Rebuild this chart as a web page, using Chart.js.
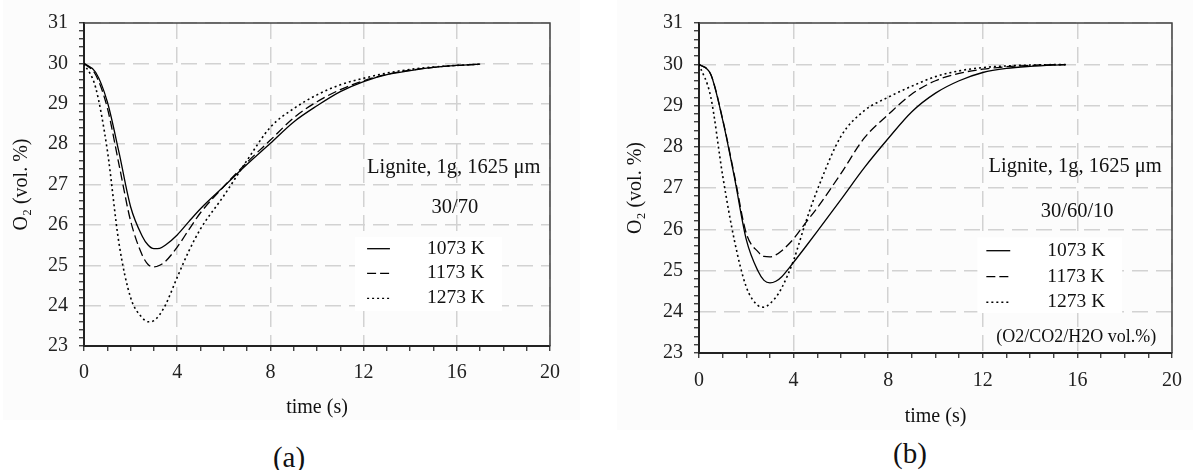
<!DOCTYPE html>
<html>
<head>
<meta charset="utf-8">
<script src="https://cdn.jsdelivr.net/npm/chart.js@4"></script>
<style>
  body { margin: 0; background: #fff; width: 1193px; height: 470px; position: relative; overflow: hidden;
         font-family: "Liberation Serif", "Times New Roman", serif; }
  canvas { position: absolute; background: #fcfcfc; }
  #chartA { left: 3px; top: 0; }
  #chartB { left: 617px; top: 0; }
  .cap { position: absolute; font-size: 29px; color: #111; transform: translate(-50%, -50%); }
</style>
</head>
<body>
<canvas id="chartA" width="577" height="420"></canvas>
<canvas id="chartB" width="576" height="430"></canvas>
<div class="cap" style="left:289px; top:457px">(a)</div>
<div class="cap" style="left:910px; top:453px">(b)</div>
<script>
// du lieu doc tu hinh
const seriesLabels = ['1073 K', '1173 K', '1273 K'];

// (a) 30/70
const timeA = [0, 0.5, 1, 1.5, 2, 2.5, 2.75, 3, 3.25, 3.5, 4, 4.5, 5, 6, 7, 8, 9, 10, 11, 12, 13, 14, 15, 16, 17];
const a1073 = [30.0, 29.78, 29.05, 27.8, 26.45, 25.72, 25.5, 25.41, 25.42, 25.5, 25.75, 26.08, 26.4, 26.95, 27.5, 28.02, 28.55, 28.95, 29.3, 29.55, 29.72, 29.82, 29.9, 29.95, 29.98];
const a1173 = [30.0, 29.72, 28.9, 27.5, 26.1, 25.25, 25.02, 24.96, 25.0, 25.1, 25.45, 25.88, 26.3, 26.95, 27.55, 28.1, 28.65, 29.05, 29.35, 29.57, 29.73, 29.83, 29.9, 29.95, 29.98];
const a1273 = [30.0, 29.4, 27.85, 25.55, 24.2, 23.7, 23.6, 23.63, 23.78, 24.02, 24.7, 25.35, 25.9, 26.72, 27.6, 28.42, 28.88, 29.22, 29.47, 29.63, 29.76, 29.85, 29.91, 29.95, 29.98];

// (b) 30/60/10
const timeB = [0, 0.5, 1, 1.5, 2, 2.5, 2.75, 3, 3.25, 3.5, 4, 4.5, 5, 6, 7, 8, 9, 10, 11, 12, 13, 14, 15, 15.5];
const b1073 = [30.0, 29.75, 28.65, 27.25, 25.75, 24.98, 24.76, 24.7, 24.74, 24.85, 25.2, 25.57, 25.95, 26.72, 27.5, 28.2, 28.85, 29.3, 29.6, 29.8, 29.9, 29.95, 29.98, 29.99];
const b1173 = [30.0, 29.75, 28.67, 27.3, 25.9, 25.45, 25.34, 25.33, 25.38, 25.48, 25.77, 26.15, 26.52, 27.35, 28.22, 28.78, 29.28, 29.6, 29.78, 29.88, 29.94, 29.97, 29.99, 29.99];
const b1273 = [30.0, 29.2, 27.3, 25.72, 24.6, 24.15, 24.11, 24.2, 24.35, 24.58, 25.25, 26.15, 26.95, 28.25, 28.88, 29.2, 29.47, 29.7, 29.84, 29.92, 29.96, 29.98, 29.99, 29.99];

const xMajorStep = 4;
const notesA = ['Lignite, 1g, 1625 μm', '30/70'];
const notesB = ['Lignite, 1g, 1625 μm', '30/60/10', '(O2/CO2/H2O vol.%)'];

const FONT = '"Liberation Serif", "Times New Roman", serif';
const lineStyles = [[], [9, 4], [2, 3]];

function isInt(v) { return Math.abs(v - Math.round(v)) < 1e-6; }

// ve chu thich, legend va khung tren/phai
function notesPlugin(spec) {
  return {
    id: 'notes',
    afterDatasetsDraw(chart) {
      const { ctx, chartArea: a, scales: { x, y } } = chart;
      ctx.save();
      // nen trang cho legend
      ctx.fillStyle = '#ffffff';
      const bx1 = x.getPixelForValue(spec.box[0]), bx2 = x.getPixelForValue(spec.box[1]);
      const by1 = y.getPixelForValue(spec.box[2]), by2 = y.getPixelForValue(spec.box[3]);
      ctx.fillRect(bx1, by1, bx2 - bx1, by2 - by1);

      ctx.fillStyle = '#111';
      ctx.textBaseline = 'middle';
      ctx.font = '20.5px ' + FONT;
      ctx.textAlign = 'left';
      ctx.fillText(spec.notes[0], x.getPixelForValue(spec.title[0]), y.getPixelForValue(spec.title[1]));
      ctx.textAlign = 'center';
      ctx.fillText(spec.notes[1], x.getPixelForValue(spec.gas[0]), y.getPixelForValue(spec.gas[1]));
      if (spec.notes[2]) {
        ctx.font = '18px ' + FONT;
        ctx.textAlign = 'left';
        ctx.fillText(spec.notes[2], x.getPixelForValue(spec.unit[0]), y.getPixelForValue(spec.unit[1]));
      }

      // legend
      ctx.font = '19.5px ' + FONT;
      ctx.textAlign = 'left';
      chart.data.datasets.forEach((ds, i) => {
        const py = y.getPixelForValue(spec.rows[i]);
        ctx.strokeStyle = '#000';
        ctx.lineWidth = 1.3;
        ctx.setLineDash(ds.borderDash);
        ctx.beginPath();
        ctx.moveTo(x.getPixelForValue(spec.legLine[0]), py);
        ctx.lineTo(x.getPixelForValue(spec.legLine[1]), py);
        ctx.stroke();
        ctx.setLineDash([]);
        ctx.fillText(ds.label, x.getPixelForValue(spec.legText), py);
      });

      // khung tren va phai
      ctx.strokeStyle = '#444';
      ctx.lineWidth = 1.5;
      ctx.beginPath();
      ctx.moveTo(a.left, a.top);
      ctx.lineTo(a.right, a.top);
      ctx.lineTo(a.right, a.bottom);
      ctx.stroke();
      ctx.restore();
    }
  };
}

function makeChart(id, time, values, spec, area) {
  const canvas = document.getElementById(id);
  const W = canvas.width, H = canvas.height;
  const datasets = values.map((v, i) => ({
    label: seriesLabels[i],
    data: time.map((t, k) => ({ x: t, y: v[k] })),
    borderColor: '#000',
    borderWidth: i === 2 ? 1.6 : 1.3,
    borderDash: lineStyles[i],
    pointRadius: 0,
    fill: false,
    cubicInterpolationMode: 'monotone'
  }));

  return new Chart(canvas.getContext('2d'), {
    type: 'line',
    data: { datasets: datasets },
    options: {
      responsive: false,
      animation: false,
      layout: { padding: { top: area.top, right: W - area.right, left: 0, bottom: 0 } },
      plugins: { legend: { display: false }, tooltip: { enabled: false } },
      scales: {
        x: {
          type: 'linear', min: 0, max: 20,
          afterFit(s) { s.height = H - area.bottom; },
          ticks: {
            stepSize: 1, autoSkip: false, maxRotation: 0, padding: area.xPad,
            color: '#222', font: { family: FONT, size: 20 },
            callback: v => (v % xMajorStep === 0 ? String(v) : '')
          },
          grid: {
            color: c => (c.tick && c.tick.value % xMajorStep === 0 ? '#d2d2d2' : 'rgba(0,0,0,0)'),
            lineWidth: 1.5, tickColor: '#222', tickLength: 5, tickWidth: 1.2
          },
          border: { color: '#222', width: 2, dash: [16, 8] },
          title: {
            display: true, text: 'time (s)', color: '#111',
            font: { family: FONT, size: 20 }, padding: { top: 0, bottom: area.xTitlePad }
          }
        },
        y: {
          min: 23, max: 31,
          afterFit(s) { s.width = area.left; },
          ticks: {
            stepSize: 0.2, autoSkip: false, padding: 11,
            color: '#222', font: { family: FONT, size: 20 },
            callback: v => (isInt(v) ? String(Math.round(v)) : '')
          },
          grid: {
            color: c => (c.tick && isInt(c.tick.value) ? '#d2d2d2' : 'rgba(0,0,0,0)'),
            lineWidth: 1.5, tickColor: '#222', tickLength: 5, tickWidth: 1.2
          },
          border: { color: '#222', width: 2, dash: [16, 8] },
          title: {
            display: true, text: 'O₂ (vol. %)', color: '#111',
            font: { family: FONT, size: 20 }, padding: { top: 7, bottom: 0 }
          }
        }
      }
    },
    plugins: [notesPlugin(spec)]
  });
}

makeChart('chartA', timeA, [a1073, a1173, a1273], {
  notes: notesA,
  title: [12.15, 27.42], gas: [15.92, 26.44],
  rows: [25.41, 24.80, 24.18], legLine: [12.15, 13.13], legText: [14.72],
  box: [11.63, 17.94, 25.7, 23.87]
}, { left: 81, right: 547, top: 20, bottom: 346, xPad: 10, xTitlePad: 0 });

makeChart('chartB', timeB, [b1073, b1173, b1273], {
  notes: notesB,
  title: [12.24, 27.52], gas: [15.99, 26.42], unit: [12.57, 23.38],
  rows: [25.48, 24.85, 24.23], legLine: [12.15, 13.16], legText: [14.73],
  box: [11.77, 17.89, 25.8, 23.97]
}, { left: 82, right: 556, top: 20, bottom: 353, xPad: 11, xTitlePad: 1 });
</script>
</body>
</html>
